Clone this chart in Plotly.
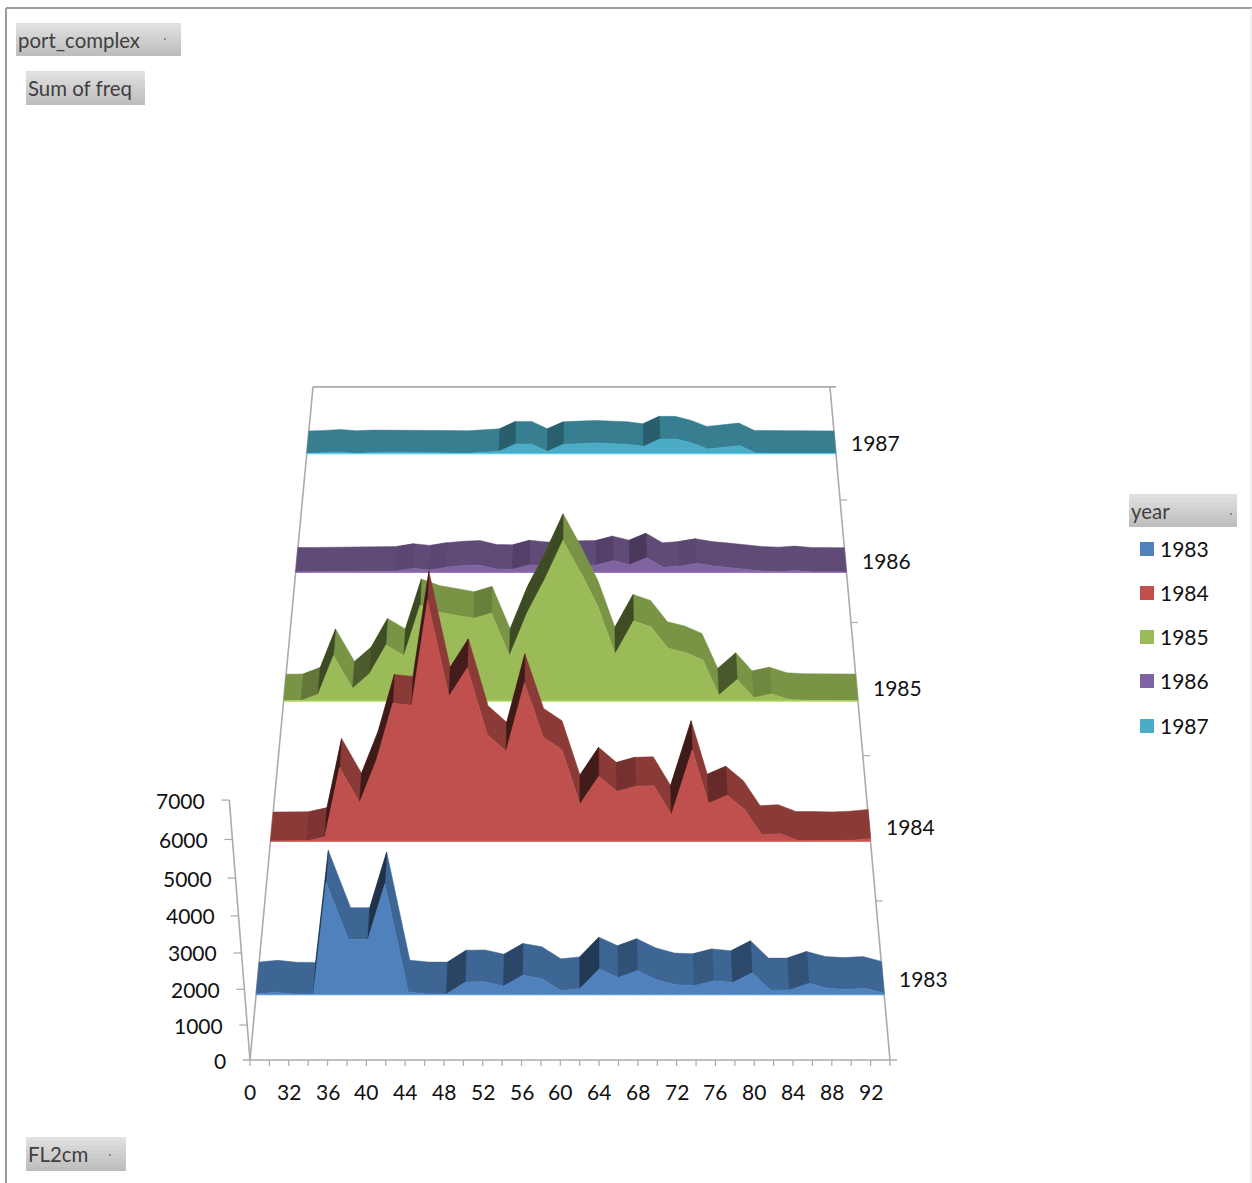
import math
import plotly.graph_objects as go

fl_categories = [0, 30] + list(range(32, 96, 2))
fl_tick_labels = [0, 32, 36, 40, 44, 48, 52, 56, 60, 64, 68, 72, 76, 80, 84, 88, 92]
value_ticks = [0, 1000, 2000, 3000, 4000, 5000, 6000, 7000]
years = [1983, 1984, 1985, 1986, 1987]
series_colors = ["#4F81BD", "#C0504D", "#9BBB59", "#8064A2", "#4BACC6"]
flat_shade = [0.79, 0.72, 0.79, 0.74, 0.73]

freq_1983 = [20, 70, 15, 10, 3150, 1570, 1570, 3110, 75, 20, 20, 360, 370, 245, 555, 460, 115,
             170, 735, 490, 690, 430, 280, 260, 400, 345, 630, 135, 135, 325, 180, 150, 180, 40]
freq_1984 = [5, 10, 15, 130, 2100, 1120, 2295, 3870, 3815, 6600, 4060, 4825, 3015, 2555, 4425, 2940, 2600,
             1070, 1855, 1430, 1575, 1590, 770, 2600, 1095, 1320, 910, 190, 220, 20, 20, 10, 30, 80]
freq_1985 = [5, 15, 200, 1320, 375, 795, 1620, 1320, 2735, 2550, 2455, 2375, 2520, 1320, 2520, 3465, 4530,
             3645, 2680, 1365, 2300, 2130, 1525, 1400, 1190, 175, 630, 100, 210, 50, 20, 10, 10, 10]
freq_1986 = [10, 10, 10, 15, 20, 30, 40, 120, 70, 150, 195, 215, 100, 90, 225, 170, 200,
             210, 215, 345, 225, 430, 150, 185, 265, 185, 140, 100, 40, 20, 50, 10, 5, 5]
freq_1987 = [5, 20, 50, 10, 30, 40, 40, 30, 20, 15, 10, 40, 70, 290, 290, 70, 280,
             300, 320, 300, 280, 220, 440, 440, 320, 140, 190, 240, 20, 5, 5, 5, 5, 5]
all_freq = [freq_1983, freq_1984, freq_1985, freq_1986, freq_1987]

AX = "#ABABAB"
TXT = "#111111"
BTN = "#404040"
FONT = "Lato"


def project(k, depth, value):
    """Perspective of the chart box: k = category index, depth 0..1 front to back, value = freq."""
    X = k / 33
    Z = value / 7000
    w = 1 + 0.238 * depth - 0.0667 * Z
    return (250 + 640 * X + 137.5 * depth - 36 * Z) / w, (1060 - 581 * depth - 313.3 * Z) / w


def shade(hex_color, f):
    r, g, b = [int(hex_color[i:i + 2], 16) for i in (1, 3, 5)]
    return f"rgb({min(255, r * f):.0f},{min(255, g * f):.0f},{min(255, b * f):.0f})"


fig = go.Figure()


def poly(pts, color):
    fig.add_trace(go.Scatter(x=[p[0] for p in pts] + [pts[0][0]], y=[p[1] for p in pts] + [pts[0][1]],
                             mode="lines", fill="toself", fillcolor=color,
                             line=dict(color=color, width=0.5), hoverinfo="skip", showlegend=False))


def seg(p, q, color=AX, width=1.6):
    fig.add_trace(go.Scatter(x=[p[0], q[0]], y=[p[1], q[1]], mode="lines",
                             line=dict(color=color, width=width), hoverinfo="skip", showlegend=False))


# box edges and ticks
seg(project(0, 0, 0), project(0, 1, 0))
seg(project(33, 0, 0), project(33, 1, 0))
back_l, back_r = project(0, 1, 0), project(33, 1, 0)
seg(back_l, (back_r[0] + 6, back_r[1]))
front_l, front_r = project(0, 0, 0), project(33, 0, 0)
seg((front_l[0] - 7, front_l[1]), (front_r[0] + 7, front_r[1]))
seg(project(0, 0, 0), project(0, 0, value_ticks[-1]))
for k in range(len(fl_categories)):
    p = project(k, 0, 0)
    seg(p, (p[0], p[1] + 6), width=1.2)
for v in value_ticks[1:]:
    p = project(0, 0, v)
    seg(p, (p[0] - 8, p[1]), width=1.2)
for i in range(1, 5):
    p = project(33, i * 0.2, 0)
    seg(p, (p[0] + 7, p[1]), width=1.2)

# ribbons, far to near
n = len(fl_categories)
for i in reversed(range(len(years))):
    vals, col = all_freq[i], series_colors[i]
    yf = i * 0.2 + 0.08
    yb = yf + 0.04
    # whole top band in the flat shade
    band = [project(k, yf, vals[k]) for k in range(n)] + [project(k, yb, vals[k]) for k in reversed(range(n))]
    poly(band, shade(col, flat_shade[i]))
    # rising stretches are darker
    order = sorted(range(n - 1), key=lambda k: -abs(k + 0.5 - 16.5))
    for k in order:
        rise = vals[k + 1] - vals[k]
        if rise > 60:
            f = flat_shade[i] - 0.40 * (1 - math.exp(-(rise - 60) / 260))
            poly([project(k, yf, vals[k]), project(k + 1, yf, vals[k + 1]),
                  project(k + 1, yb, vals[k + 1]), project(k, yb, vals[k])], shade(col, f))
    top = [project(k, yf, vals[k]) for k in range(n)]
    base = [project(n - 1, yf, 0), project(0, yf, 0)]
    pts = top + base + [top[0]]
    fig.add_trace(go.Scatter(x=[p[0] for p in pts], y=[p[1] for p in pts], mode="lines", fill="toself",
                             fillcolor=col, line=dict(color=col, width=0.5), name=str(years[i]),
                             customdata=vals + [0, 0, vals[0]], hovertemplate="%{customdata}<extra></extra>",
                             showlegend=False))
    seg(base[1], base[0], color=shade(col, 1.2), width=1.2)

ann = []


def label(x, y, text, color=TXT, size=21, anchor="center"):
    ann.append(dict(x=x, y=y, text=str(text), showarrow=False, xanchor=anchor, yanchor="middle",
                    font=dict(family=FONT, size=size, color=color), xref="x", yref="y"))


for lab_i, lab in enumerate(fl_tick_labels):
    px, py = project(lab_i * 2, 0, 0)
    label(px, py + 31, lab)
for v in value_ticks:
    px, py = project(0, 0, v)
    label(px - 22, py, v, anchor="right")
for i, yr in enumerate(years):
    px, py = project(33, i * 0.2 + 0.1, 0)
    label(px + 41, py, yr)

# pivot-field buttons
buttons = [("port_complex", 16, 181, 23, 56), ("Sum of freq", 26, 145, 71, 105),
           ("FL2cm", 26, 126, 1137, 1171), ("year", 1129, 1237, 494, 527)]
shapes = []
STRIPS = 8
for text, x0, x1, y0, y1 in buttons:
    for s in range(STRIPS):
        g = round(224 - (224 - 190) * s / (STRIPS - 1))
        shapes.append(dict(type="rect", xref="x", yref="y", x0=x0, x1=x1,
                           y0=y0 + (y1 - y0) * s / STRIPS, y1=y1,
                           fillcolor=f"rgb({g},{g},{g})", line=dict(width=0), layer="below"))
    label(x0 - 0.5, (y0 + y1) / 2 + 0.2, text, color=BTN, size=20.4, anchor="left")

# outer frame
shapes += [
    dict(type="line", xref="x", yref="y", x0=6, x1=6, y0=8, y1=1183, line=dict(color="#9C9C9C", width=2)),
    dict(type="line", xref="x", yref="y", x0=6, x1=1252, y0=8, y1=8, line=dict(color="#9C9C9C", width=2)),
    dict(type="line", xref="x", yref="y", x0=1251, x1=1251, y0=8, y1=1183, line=dict(color="#E4E4E4", width=1)),
]

# legend block
legend_rows = [549, 593, 637, 681, 726]
fig.add_trace(go.Scatter(x=[1147] * 5, y=legend_rows, mode="markers",
                         marker=dict(symbol="square", size=14, color=series_colors),
                         hoverinfo="skip", showlegend=False))
for row, yr in zip(legend_rows, years):
    label(1158, row - 1, yr, anchor="left")
# small drop-down marks on the buttons
fig.add_trace(go.Scatter(x=[165, 110, 1231], y=[39, 1155, 514], mode="markers",
                         marker=dict(symbol="square", size=2, color="#8A8A8A"),
                         hoverinfo="skip", showlegend=False))

fig.update_layout(width=1252, height=1183, margin=dict(l=0, r=0, t=0, b=0),
                  paper_bgcolor="white", plot_bgcolor="white", showlegend=False,
                  xaxis=dict(range=[0, 1252], visible=False, fixedrange=True),
                  yaxis=dict(range=[1183, 0], visible=False, fixedrange=True),
                  annotations=ann, shapes=shapes)
fig.write_html("out.html", config=dict(displayModeBar=False),
               post_script="document.body.style.margin='0';document.documentElement.style.overflow='hidden';")
